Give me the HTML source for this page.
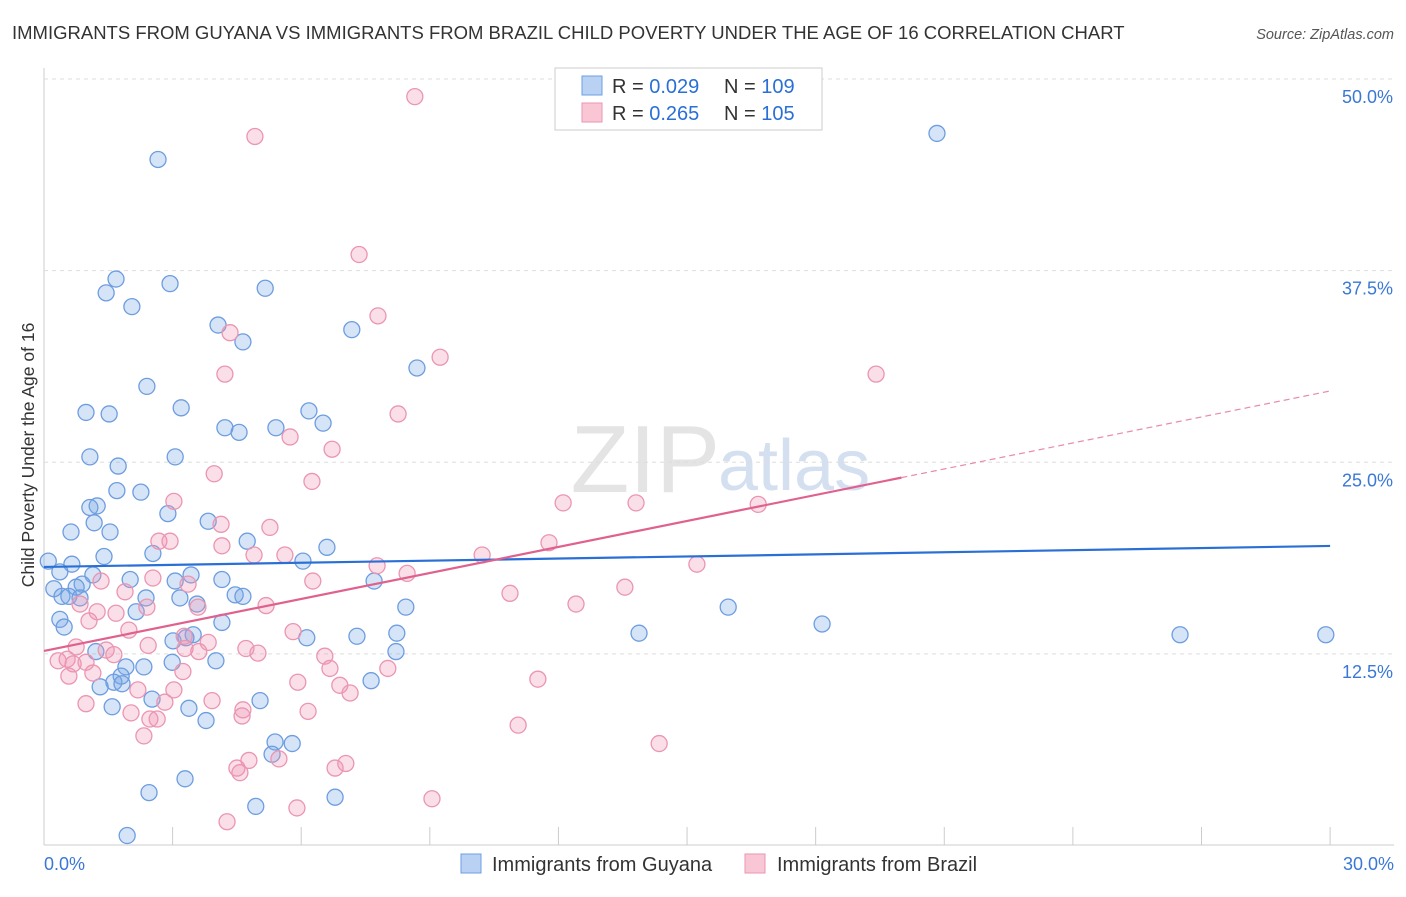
<!DOCTYPE html>
<html><head><meta charset="utf-8"><style>
body{margin:0;background:#fff;font-family:"Liberation Sans",sans-serif;}
svg text{font-family:"Liberation Sans",sans-serif;}
</style></head><body>
<svg id="chart" width="1406" height="892" xmlns="http://www.w3.org/2000/svg">
<text x="12" y="39" font-size="18.5" fill="#333">IMMIGRANTS FROM GUYANA VS IMMIGRANTS FROM BRAZIL CHILD POVERTY UNDER THE AGE OF 16 CORRELATION CHART</text>
<text x="1394" y="39" font-size="14.5" fill="#555" text-anchor="end" font-style="italic">Source: ZipAtlas.com</text>
<text x="720" y="492" font-size="96" fill="#e4e4e4" text-anchor="end" font-family="Liberation Serif">ZIP</text>
<text x="718" y="490" font-size="72" fill="#d4e0f0">atlas</text>
<text transform="translate(34,455) rotate(-90)" font-size="17.5" fill="#333" text-anchor="middle">Child Poverty Under the Age of 16</text>
<g id="grid"></g><g id="pts"></g><g id="lines"></g>
<g>
<rect x="555" y="68" width="267" height="62" fill="#fff" stroke="#ccc"/>
<rect x="582" y="76" width="20" height="19" fill="#b9d2f3" stroke="#6d9de0"/>
<rect x="582" y="103" width="20" height="19" fill="#f9c6d6" stroke="#eb95b1"/>
<text x="612" y="93" font-size="20" fill="#333">R = <tspan fill="#2a6fd6">0.029</tspan><tspan x="724">N = </tspan><tspan fill="#2a6fd6">109</tspan></text>
<text x="612" y="120" font-size="20" fill="#333">R = <tspan fill="#2a6fd6">0.265</tspan><tspan x="724">N = </tspan><tspan fill="#2a6fd6">105</tspan></text>
</g>
<g>
<rect x="461" y="854" width="20" height="19" fill="#b9d2f3" stroke="#6d9de0"/>
<text x="492" y="871" font-size="20" fill="#333">Immigrants from Guyana</text>
<rect x="745" y="854" width="20" height="19" fill="#f9c6d6" stroke="#eb95b1"/>
<text x="777" y="871" font-size="20" fill="#333">Immigrants from Brazil</text>
</g>
</svg>
<script>
const xTicks=[0,3,6,9,12,15,18,21,24,27,30];
const yTicks=[12.5,25,37.5,50];
const yTickLabels=["12.5%","25.0%","37.5%","50.0%"];
const guyanaX=[2.66,20.83,1.68,2.94,1.45,5.16,2.05,4.06,4.64,7.18,8.70,2.40,3.20,0.98,1.52,6.18,4.22,4.55,5.41,6.51,1.07,3.06,1.73,1.70,2.26,1.07,1.24,2.89,1.17,3.83,0.63,1.54,2.54,4.74,6.60,1.40,0.65,6.04,0.1,0.37,1.14,2.01,3.06,3.43,4.15,7.70,0.89,0.75,0.23,0.42,0.58,0.84,2.38,3.17,4.46,4.64,3.57,8.44,15.96,2.15,0.37,0.47,4.15,18.15,3.01,3.48,6.13,7.30,8.23,13.88,26.5,29.9,3.31,1.21,8.21,2.99,1.91,4.01,2.33,1.80,1.63,1.82,1.31,7.63,2.52,5.04,1.59,3.38,3.78,5.39,5.79,5.32,3.29,2.45,6.79,4.94,1.94];
const guyanaY=[44.75,46.45,36.95,36.65,36.05,36.35,35.15,33.95,32.85,33.65,31.15,29.95,28.55,28.25,28.15,28.35,27.25,26.95,27.25,27.55,25.35,25.35,24.75,23.15,23.05,22.05,22.15,21.65,21.05,21.15,20.45,20.45,19.05,19.85,19.45,18.85,18.35,18.55,18.55,17.85,17.65,17.35,17.25,17.65,17.35,17.25,17.05,16.85,16.75,16.25,16.25,16.15,16.15,16.15,16.35,16.25,15.75,15.55,15.55,15.25,14.75,14.25,14.55,14.45,13.35,13.75,13.55,13.65,13.85,13.85,13.75,13.75,13.55,12.65,12.65,11.95,11.65,12.05,11.65,11.05,10.65,10.55,10.35,10.75,9.55,9.45,9.05,8.95,8.15,6.75,6.65,5.95,4.35,3.45,3.15,2.55,0.65];
const brazilX=[8.65,4.92,7.35,7.79,4.34,9.24,4.22,19.41,8.26,5.74,6.72,6.25,3.97,3.03,12.11,13.81,16.66,5.27,4.13,2.94,2.68,4.15,11.78,5.62,4.90,10.22,15.23,7.77,8.47,2.54,1.33,3.36,6.27,13.55,10.87,1.89,12.41,5.18,3.59,0.84,1.24,1.68,2.40,1.05,1.98,5.81,0.75,3.27,2.43,3.83,4.71,1.45,3.61,3.29,4.99,6.55,1.63,0.54,0.98,0.33,0.68,6.67,8.02,0.58,1.14,3.24,5.92,6.90,11.52,2.19,3.03,7.14,3.92,2.82,0.98,4.64,6.16,2.03,4.62,2.47,2.64,11.06,2.33,14.35,5.48,4.78,7.04,4.50,6.79,4.57,9.05,5.90,4.27];
const brazilY=[48.85,46.25,38.55,34.55,33.45,31.85,30.75,30.75,28.15,26.65,25.85,23.75,24.25,22.45,22.35,22.35,22.25,20.75,20.95,19.85,19.85,19.55,19.75,18.95,18.95,18.95,18.35,18.25,17.75,17.45,17.25,17.05,17.25,16.85,16.45,16.55,15.75,15.65,15.55,15.75,15.25,15.15,15.55,14.65,14.05,13.95,12.95,13.65,13.05,13.25,12.85,12.75,12.65,12.85,12.55,12.35,12.45,12.15,11.95,12.05,11.85,11.55,11.55,11.05,11.25,11.35,10.65,10.45,10.85,10.15,10.15,9.95,9.45,9.35,9.25,8.85,8.75,8.65,8.45,8.25,8.25,7.85,7.15,6.65,5.65,5.55,5.35,5.05,5.05,4.75,3.05,2.45,1.55];
const guyanaTrend=[18.17,19.54];
const brazilTrend=[12.69,29.65];
const NS="http://www.w3.org/2000/svg";
const X=v=>44+v*42.87;
const Y=v=>845.5-v*15.33;
function mk(t,a,p){const e=document.createElementNS(NS,t);for(const k in a)e.setAttribute(k,a[k]);p.appendChild(e);return e;}
const grid=document.getElementById('grid');
const axisL=mk('line',{x1:44,y1:68,x2:44,y2:845,stroke:'#ccc'},grid);


const axisB=mk('line',{x1:44,y1:845,x2:1394,y2:845,stroke:'#ccc'},grid);


yTicks.forEach((t,i)=>{
 const g=mk('line',{x1:44,y1:Y(t),x2:1394,y2:Y(t),stroke:'#ddd','stroke-dasharray':'4,4'},grid);
 
 
 const l=mk('text',{x:1393,y:Y(t)+24,'font-size':18,fill:'#3a78d4','text-anchor':'end'},grid);
 
 
 l.textContent=yTickLabels[i];
});
xTicks.forEach(t=>{
 const k=mk('line',{x1:X(t),y1:827,x2:X(t),y2:845,stroke:'#ccc'},grid);
 
 
});
[[0,'0.0%','start',44],[30,'30.0%','end',1394]].forEach(d=>{
 const l=mk('text',{x:d[3],y:870,'font-size':18,fill:'#3a78d4','text-anchor':d[2]},grid);
 
 
 l.textContent=d[1];
});
const pts=document.getElementById('pts');
guyanaX.forEach((x,i)=>{
 const c=mk('circle',{cx:X(x),cy:Y(guyanaY[i]),r:8,fill:'rgba(120,165,230,0.3)',stroke:'#6d9de0','stroke-width':1.3},pts);
 
 
});
brazilX.forEach((x,i)=>{
 const c=mk('circle',{cx:X(x),cy:Y(brazilY[i]),r:8,fill:'rgba(240,150,180,0.3)',stroke:'#eb95b1','stroke-width':1.3},pts);
 
 
});
const lines=document.getElementById('lines');
const bl=mk('line',{x1:X(0),y1:Y(guyanaTrend[0]),x2:X(30),y2:Y(guyanaTrend[1]),stroke:'#2a6fd6','stroke-width':2.2},lines);


const pm=v=>brazilTrend[0]+(brazilTrend[1]-brazilTrend[0])*v/30;
const pl=mk('line',{x1:X(0),y1:Y(pm(0)),x2:X(20),y2:Y(pm(20)),stroke:'#e0608e','stroke-width':2.2},lines);


const pd=mk('line',{x1:X(20),y1:Y(pm(20)),x2:X(30),y2:Y(pm(30)),stroke:'#e88aa8','stroke-width':1.2,'stroke-dasharray':'6,4'},lines);


</script>
</body></html>
